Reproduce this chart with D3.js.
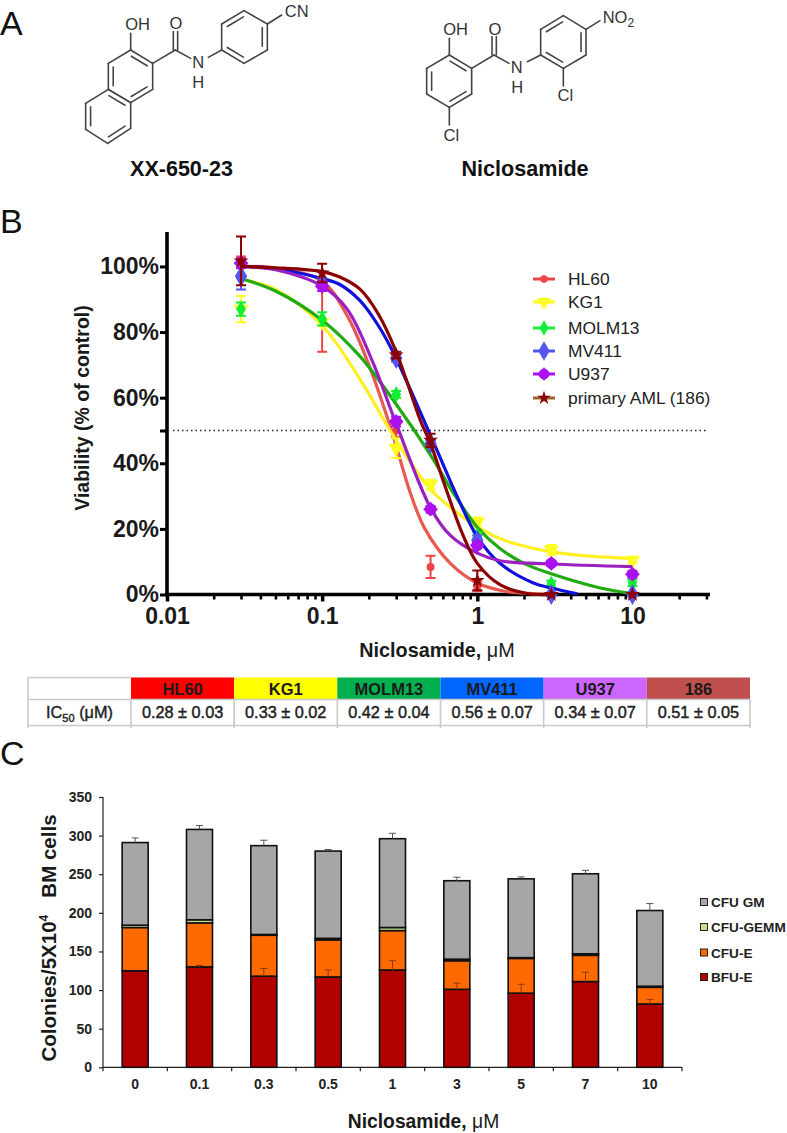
<!DOCTYPE html>
<html><head><meta charset="utf-8">
<script src="https://cdnjs.cloudflare.com/ajax/libs/d3/7.8.5/d3.min.js"></script>
<style>html,body{margin:0;padding:0;background:#fff}svg{display:block}text{font-family:"Liberation Sans",Arial,sans-serif}</style>
</head><body><svg id="c" width="787" height="1133"></svg>
<script>
// ---------- Panel B data ----------
const doses = [0.03, 0.1, 0.3, 0.5, 1, 3, 10];
const seriesNames = ["HL60", "KG1", "MOLM13", "MV411", "U937", "primary AML (186)"];
const hl60Points = [100, 94, 50, 8.4, 2.5, 0, 0];
const kg1Points = [87, 83, 44.6, 33.5, 22, 13.6, 10.5];
const molm13Points = [87, 84, 61, 46, 18, 3.2, 3.6];
const mv411Points = [97, 95, 72, 46, 16.5, 0, 0];
const u937Points = [101, 94, 52.7, 26, 15, 9.5, 6.2];
const amlPoints = [101.7, 98, 73, 47, 4.3, 0, 0];
const hl60ErrDown = [3, 20, 2, 3.4, 1.5, 0, 0];
const hl60ErrUp = [3, 0, 2, 3.4, 1.5, 0, 0];
const kg1Err = [4, 1, 3, 1.5, 1.5, 1.5, 1];
const molm13Err = [2, 2, 1, 1, 1, 1, 1];
const mv411Err = [4, 1.5, 1, 1, 1.5, 0.5, 0.5];
const u937Err = [1.5, 1.5, 1.5, 1, 1, 0.8, 1];
const amlErr = [7.4, 2.8, 1, 2, 3, 0, 0];
// fitted curves: [dose, viability]
const hl60Curve = [[0.03,100],[0.05,99.5],[0.1,95.5],[0.145,85],[0.2,70],[0.28,50],[0.37,31],[0.46,20],[0.67,9.5],[1,3.5],[1.5,1],[2,0.4],[3,0]];
const kg1Curve = [[0.03,96],[0.05,93],[0.1,82],[0.176,65.5],[0.3,47],[0.5,32],[0.74,25],[1.05,20],[1.5,16.5],[2,14.8],[3,13],[5,11.8],[10,11]];
const molm13Curve = [[0.03,96.3],[0.05,92.5],[0.1,83.6],[0.176,72.5],[0.3,58],[0.5,42.5],[0.7,31],[1,20.5],[1.4,14],[2,9.5],[3,6.3],[6.2,2],[10,0.3]];
const mv411Curve = [[0.03,100],[0.05,99.3],[0.1,96.3],[0.13,94.5],[0.176,89.5],[0.23,82],[0.29,73.4],[0.52,46.6],[0.74,30],[1,17.6],[1.4,9.5],[2.3,3.5],[3,2],[4.4,0.2]];
const u937Curve = [[0.03,100],[0.05,99],[0.1,94],[0.145,87],[0.213,70.6],[0.295,53],[0.5,26.4],[0.67,18],[1,12.6],[1.4,10.3],[3,9.3],[10,8.5]];
const amlCurve = [[0.03,100],[0.05,99.6],[0.1,98.4],[0.13,96.8],[0.176,93],[0.23,85.5],[0.3,74],[0.43,53],[0.5,46],[0.62,33],[0.81,18],[1,9.5],[1.4,3],[2.1,0.3],[3,0]];
const curveColors = ["#e85a50", "#ffee22", "#22aa11", "#1111dd", "#9a20c0", "#8b0000"];
const markerColors = ["#ee4444", "#ffff22", "#11ee33", "#5555ee", "#aa11ee", "#8b0000"];
const legendLineColors = ["#ee4444", "#ffff22", "#11ee33", "#5555ee", "#aa11ee", "#a0642a"];
const viabilityTicks = [0, 20, 40, 50, 60, 80, 100];
const doseTicks = [0.01, 0.1, 1, 10];
const minorDoseTicks = [0.02,0.03,0.04,0.05,0.06,0.07,0.08,0.09,0.2,0.3,0.4,0.5,0.6,0.7,0.8,0.9,2,3,4,5,6,7,8,9,20,30];
// ---------- Table data ----------
const tableHeaders = ["HL60", "KG1", "MOLM13", "MV411", "U937", "186"];
const tableColors = ["#ff0000", "#ffff00", "#00b050", "#0066ff", "#cc66ff", "#c0504d"];
const tableValues = ["0.28 ± 0.03", "0.33 ± 0.02", "0.42 ± 0.04", "0.56 ± 0.07", "0.34 ± 0.07", "0.51 ± 0.05"];
// ---------- Panel C data ----------
const conc = ["0", "0.1", "0.3", "0.5", "1", "3", "5", "7", "10"];
const bfuE = [125, 130, 118, 117, 126, 101, 96, 111, 82];
const cfuE = [56, 57, 53, 48, 51, 37, 45, 34, 21.6];
const cfuGemm = [3, 4, 1, 2, 4, 2, 1, 2, 1.4];
const cfuGm = [107, 117, 115, 113, 115, 101.6, 102, 103.6, 98];
const bfuErr = [0, 2, 10, 9, 12, 8, 11.5, 12, 6];
const gmErr = [6, 5, 7, 2, 7, 4.5, 2.5, 4.5, 9];
const stackNames = ["BFU-E", "CFU-E", "CFU-GEMM", "CFU GM"];
const stackColors = ["#b00000", "#ff6a00", "#c4de8e", "#a6a6a6"];
const legendOrder = ["CFU GM", "CFU-GEMM", "CFU-E", "BFU-E"];
const colonyTicks = [0, 50, 100, 150, 200, 250, 300, 350];

const svg = d3.select("#c");
const FF = '"Liberation Sans",Arial,sans-serif';
// ---------- Panel letters ----------
[["A", 0, 35], ["B", 0, 233], ["C", 0, 765]].forEach(([t, x, y]) =>
  svg.append("text").attr("x", x).attr("y", y).attr("font-size", 34).attr("fill", "#111").text(t));

// ---------- Panel A structures ----------
function molecule(ox, rings, bonds, doubles, labels) {
  const g = svg.append("g").attr("transform", `translate(${ox},0) scale(${1/3})`)
    .attr("stroke", "#444").attr("stroke-width", 4.8).attr("fill", "none").attr("stroke-linecap", "round");
  const seg = (a, b) => g.append("line").attr("x1", a[0]).attr("y1", a[1]).attr("x2", b[0]).attr("y2", b[1]);
  rings.forEach(r => {
    r.pts.forEach((p, i) => seg(p, r.pts[(i + 1) % r.pts.length]));
    const cx = d3.mean(r.pts, p => p[0]), cy = d3.mean(r.pts, p => p[1]);
    r.inner.forEach(i => {
      const a = r.pts[i], b = r.pts[(i + 1) % r.pts.length];
      const m = [(a[0]+b[0])/2, (a[1]+b[1])/2];
      const shrink = q => { const t = [m[0]+(q[0]-m[0])*0.72, m[1]+(q[1]-m[1])*0.72];
        return [t[0]+(cx-m[0])*0.22, t[1]+(cy-m[1])*0.22]; };
      seg(shrink(a), shrink(b));
    });
  });
  bonds.forEach(b => seg(b[0], b[1]));
  doubles.forEach(b => seg(b[0], b[1]));
  labels.forEach(l => {
    const t = svg.append("text").attr("x", ox + l[1]/3).attr("y", l[2]/3 + 6)
      .attr("text-anchor", l[3] || "middle").attr("font-size", 16.5).attr("fill", "#333");
    if (l[0] === "NO2") { t.append("tspan").text("NO"); t.append("tspan").attr("font-size", 12).attr("dy", 4).text("2"); }
    else t.text(l[0]);
  });
}
molecule(70,
 [{pts:[[182,150],[248,190],[248,268],[182,308],[115,268],[115,190]],inner:[0,2,4]},
  {pts:[[182,308],[182,385],[113,430],[47,388],[47,310],[115,268]],inner:[1,3,5]},
  {pts:[[455,150],[455,72],[522,32],[592,72],[592,150],[522,190]],inner:[1,3,5]}],
 [[[182,150],[182,100]],[[248,190],[316,150]],[[316,150],[362,175]],[[415,172],[455,150]],[[592,72],[635,45]]],
 [[[310,150],[310,95]],[[323,150],[323,95]]],
 [["OH",203,72],["O",318,68],["N",385,185],["H",385,245],["CN",680,33]]);
molecule(410,
 [{pts:[[118,165],[185,205],[185,282],[118,322],[50,282],[50,205]],inner:[0,2,4]},
  {pts:[[392,165],[392,88],[460,47],[528,88],[528,165],[460,205]],inner:[1,3,5]}],
 [[[118,165],[118,115]],[[118,322],[118,375]],[[185,205],[252,165]],[[252,165],[297,190]],[[352,185],[392,165]],[[460,205],[460,258]],[[528,88],[570,62]]],
 [[[246,165],[246,110]],[[259,165],[259,110]]],
 [["OH",137,88],["O",255,88],["N",320,202],["H",322,262],["Cl",124,405],["Cl",466,285],["NO2",578,50,"start"]]);
svg.append("text").attr("x",181.5).attr("y",176).attr("text-anchor","middle").attr("font-size",21.5).attr("font-weight","bold").attr("fill","#111").text("XX-650-23");
svg.append("text").attr("x",525).attr("y",176).attr("text-anchor","middle").attr("font-size",21.6).attr("font-weight","bold").attr("fill","#111").text("Niclosamide");

// ---------- Panel B ----------
const xB = d3.scaleLog().domain([0.01, 31.62]).range([167, 710]);
const yB = d3.scaleLinear().domain([0, 110.5]).range([594.5, 232]);
const gB = svg.append("g");
gB.append("line").attr("x1", xB(0.01)+6).attr("x2", 708).attr("y1", yB(50)).attr("y2", yB(50))
  .attr("stroke", "#222").attr("stroke-width", 1.5).attr("stroke-dasharray", "1.5 3");
const axYB = d3.axisLeft(yB).tickValues(viabilityTicks).tickSize(7).tickPadding(1)
  .tickFormat(d => d === 50 ? "" : d + "%");
const gyB = gB.append("g").attr("transform", "translate(167,0)").call(axYB);
gyB.select(".domain").attr("stroke", "#000").attr("stroke-width", 3.6).attr("d", `M0,232V596`);
gyB.selectAll(".tick line").attr("stroke", "#000").attr("stroke-width", 3);
gyB.selectAll("text").attr("font-size", 23).attr("font-weight", "bold").attr("fill", "#1a1a1a").attr("font-family", FF);
const axXB = d3.axisBottom(xB).tickValues(doseTicks).tickSize(7).tickPadding(6).tickFormat(d => String(d));
const gxB = gB.append("g").attr("transform", "translate(0,594.5)").call(axXB);
gxB.select(".domain").attr("stroke", "#000").attr("stroke-width", 3.6).attr("d", "M165,0H710");
gxB.selectAll(".tick line").attr("stroke", "#000").attr("stroke-width", 3.5);
gxB.selectAll("text").attr("font-size", 23).attr("font-weight", "bold").attr("fill", "#1a1a1a").attr("font-family", FF);
const gxm = gB.append("g").attr("transform", "translate(0,594.5)")
  .call(d3.axisBottom(xB).tickValues(minorDoseTicks).tickSize(5).tickFormat(""));
gxm.select(".domain").remove();
gxm.selectAll(".tick line").attr("stroke", "#000").attr("stroke-width", 2.6);

gB.append("text").attr("transform", "translate(89,408) rotate(-90)").attr("text-anchor", "middle")
  .attr("font-size", 19.5).attr("font-weight", "bold").attr("fill", "#1a1a1a").text("Viability (% of control)");
const tB = gB.append("text").attr("x", 437).attr("y", 657).attr("text-anchor", "middle")
  .attr("font-size", 19.8).attr("font-weight", "bold").attr("fill", "#1a1a1a");
tB.append("tspan").text("Niclosamide, ");
tB.append("tspan").attr("font-weight", "normal").text("μM");

const symbolOf = [d3.symbolCircle, d3.symbolTriangle, d3.symbolDiamond, d3.symbolDiamond, d3.symbolCircle, d3.symbolStar];
const sizeOf = [50, 100, 80, 130, 100, 70];
const rotOf = [0, 180, 0, 0, 0, 0];
const allPoints = [hl60Points, kg1Points, molm13Points, mv411Points, u937Points, amlPoints];
const allErrDown = [hl60ErrDown, kg1Err, molm13Err, mv411Err, u937Err, amlErr];
const allErrUp = [hl60ErrUp, kg1Err, molm13Err, mv411Err, u937Err, amlErr];
const allCurves = [hl60Curve, kg1Curve, molm13Curve, mv411Curve, u937Curve, amlCurve];
const line = d3.line().x(d => xB(d[0])).y(d => yB(d[1])).curve(d3.curveCatmullRom.alpha(0.5));
function marker(sel, i, x, y, color, scale) {
  sel.append("path").attr("transform", `translate(${x},${y}) rotate(${rotOf[i]})`)
    .attr("d", d3.symbol(symbolOf[i], sizeOf[i] * (scale || 1))()).attr("fill", color);
  if (i === 4) sel.append("path").attr("transform", `translate(${x},${y}) rotate(45)`)
    .attr("d", d3.symbol(d3.symbolSquare, 110 * (scale || 1))()).attr("fill", color);
}
seriesNames.forEach((name, i) => {
  const g = gB.append("g");
  g.append("path").attr("d", line(allCurves[i])).attr("fill", "none")
    .attr("stroke", curveColors[i]).attr("stroke-width", 3.2);
  const barCol = i === 5 ? "#8b0000" : markerColors[i];
  doses.forEach((d, j) => {
    const v = allPoints[i][j], dn = allErrDown[i][j], up = allErrUp[i][j], x = xB(d);
    if (dn > 0) {
      const w = 5;
      let p = `M${x},${yB(v - dn)}V${yB(v + up)}M${x-w},${yB(v - dn)}H${x+w}`;
      if (up > 0) p += `M${x-w},${yB(v + up)}H${x+w}`;
      g.append("path").attr("d", p).attr("fill", "none").attr("stroke", barCol).attr("stroke-width", 2);
    }
    marker(g, i, x, yB(v), markerColors[i]);
  });
});
// legend B
const legYs = [279, 302, 328, 351, 374, 398];
seriesNames.forEach((name, i) => {
  const g = gB.append("g");
  g.append("line").attr("x1", 533).attr("x2", 555).attr("y1", legYs[i]).attr("y2", legYs[i])
    .attr("stroke", legendLineColors[i]).attr("stroke-width", 3);
  marker(g, i, 544, legYs[i], markerColors[i], 0.85);
  g.append("text").attr("x", 568).attr("y", legYs[i] + 6).attr("font-size", 17.4).attr("fill", "#222").text(name);
});

// ---------- IC50 table ----------
const gT = svg.append("g");
const colX = d3.scaleBand().domain(tableHeaders).range([131, 750]);
tableHeaders.forEach((h, i) => {
  const x = colX(h), w = colX.bandwidth();
  gT.append("rect").attr("x", x).attr("y", 677.5).attr("width", w).attr("height", 22).attr("fill", tableColors[i]);
  gT.append("text").attr("x", x + w/2).attr("y", 694.5).attr("text-anchor", "middle").attr("font-size", 16.5)
    .attr("font-weight", "bold").attr("fill", "#1a1a1a").text(h);
  gT.append("text").attr("x", x + w/2).attr("y", 718).attr("text-anchor", "middle").attr("font-size", 16.3)
    .attr("fill", "#222").attr("stroke", "#222").attr("stroke-width", 0.45).text(tableValues[i]);
});
const grid = "#c9c9c9";
[[28,677.5,131,677.5],[28,699.5,750,699.5],[28,725.5,750,725.5],[28,677.5,28,728],[131,699.5,131,728]].forEach(l =>
  gT.append("line").attr("x1",l[0]).attr("y1",l[1]).attr("x2",l[2]).attr("y2",l[3]).attr("stroke",grid).attr("stroke-width",1.6));
tableHeaders.forEach((h, i) => {
  const x = colX(h) + colX.bandwidth();
  gT.append("line").attr("x1",x).attr("x2",x).attr("y1",699.5).attr("y2",728).attr("stroke",grid).attr("stroke-width",1.6);
});
const ic = gT.append("text").attr("x", 79.5).attr("y", 718).attr("text-anchor", "middle").attr("font-size", 16.3)
  .attr("fill", "#222").attr("stroke", "#222").attr("stroke-width", 0.4);
ic.append("tspan").text("IC");
ic.append("tspan").attr("font-size", 11).attr("dy", 4).text("50");
ic.append("tspan").attr("dy", -4).text(" (μM)");

// ---------- Panel C ----------
const xC = d3.scaleBand().domain(conc).range([103, 682]);
const yC = d3.scaleLinear().domain([0, 350]).range([1067.3, 797]);
const axYC = d3.axisLeft(yC).tickValues(colonyTicks).tickSize(4).tickPadding(7);
const gyC = svg.append("g").attr("transform", "translate(103,0)").call(axYC);
gyC.select(".domain").attr("stroke", "#222").attr("stroke-width", 1.2).attr("d", "M0,797V1067.3");
gyC.selectAll(".tick line").attr("stroke", "#222").attr("stroke-width", 1.2);
gyC.selectAll("text").attr("font-size", 14).attr("font-weight", "bold").attr("fill", "#222").attr("font-family", FF);
const axXC = d3.axisBottom(xC).tickSize(0).tickPadding(12);
const gxC = svg.append("g").attr("transform", "translate(0,1067.3)").call(axXC);
gxC.select(".domain").attr("stroke", "#222").attr("stroke-width", 1.2).attr("d", "M103,0H682");
gxC.selectAll("text").attr("font-size", 14).attr("font-weight", "bold").attr("fill", "#222").attr("font-family", FF);
conc.forEach(c => gxC.append("line").attr("x1", xC(c)).attr("x2", xC(c)).attr("y1", 0).attr("y2", 4).attr("stroke", "#222").attr("stroke-width", 1.2));
gxC.append("line").attr("x1", 682).attr("x2", 682).attr("y1", 0).attr("y2", 4).attr("stroke", "#222").attr("stroke-width", 1.2);

const rows = conc.map((c, i) => ({c, "BFU-E": bfuE[i], "CFU-E": cfuE[i], "CFU-GEMM": cfuGemm[i], "CFU GM": cfuGm[i]}));
const stacked = d3.stack().keys(stackNames)(rows);
const barW = 26;
const errs = [bfuErr, null, null, gmErr], errCol = ["#8c3a10", null, null, "#555"];
stacked.forEach((layer, k) => {
  const g = svg.append("g");
  layer.forEach((d, i) => {
    const cx = xC(d.data.c) + xC.bandwidth()/2;
    g.append("rect").attr("x", cx - barW/2).attr("width", barW)
      .attr("y", yC(d[1])).attr("height", yC(d[0]) - yC(d[1]))
      .attr("fill", stackColors[k]).attr("stroke", "#111").attr("stroke-width", 1.6);
  });
});
stacked.forEach((layer, k) => {
  if (!errs[k]) return;
  layer.forEach((d, i) => {
    const cx = xC(d.data.c) + xC.bandwidth()/2;
    if (errs[k][i] <= 0) return;
    svg.append("path").attr("d", `M${cx},${yC(d[1])}V${yC(d[1] + errs[k][i])}M${cx-3.5},${yC(d[1] + errs[k][i])}H${cx+3.5}`)
      .attr("fill", "none").attr("stroke", errCol[k]).attr("stroke-width", 1);
  });
});
const legC = [902, 927, 952.5, 977];
legendOrder.forEach((n, i) => {
  const k = stackNames.indexOf(n);
  svg.append("rect").attr("x", 700.5).attr("y", legC[i] - 3.5).attr("width", 7).attr("height", 7)
    .attr("fill", stackColors[k]).attr("stroke", "#222").attr("stroke-width", 1);
  svg.append("text").attr("x", 711).attr("y", legC[i] + 5).attr("font-size", 13.6).attr("font-weight", "bold").attr("fill", "#222").text(n);
});
const yt = svg.append("text").attr("transform", "translate(56,938) rotate(-90)").attr("text-anchor", "middle")
  .attr("font-size", 20.5).attr("font-weight", "bold").attr("fill", "#1a1a1a");
yt.append("tspan").text("Colonies/5X10");
yt.append("tspan").attr("font-size", 12).attr("dy", -8).text("4");
yt.append("tspan").attr("dy", 8).text("\u00a0\u00a0\u00a0BM cells");
const xt = svg.append("text").attr("x", 423.5).attr("y", 1128).attr("text-anchor", "middle")
  .attr("font-size", 19.3).attr("font-weight", "bold").attr("fill", "#1a1a1a");
xt.append("tspan").text("Niclosamide, ");
xt.append("tspan").attr("font-weight", "normal").text("μM");
</script></body></html>
